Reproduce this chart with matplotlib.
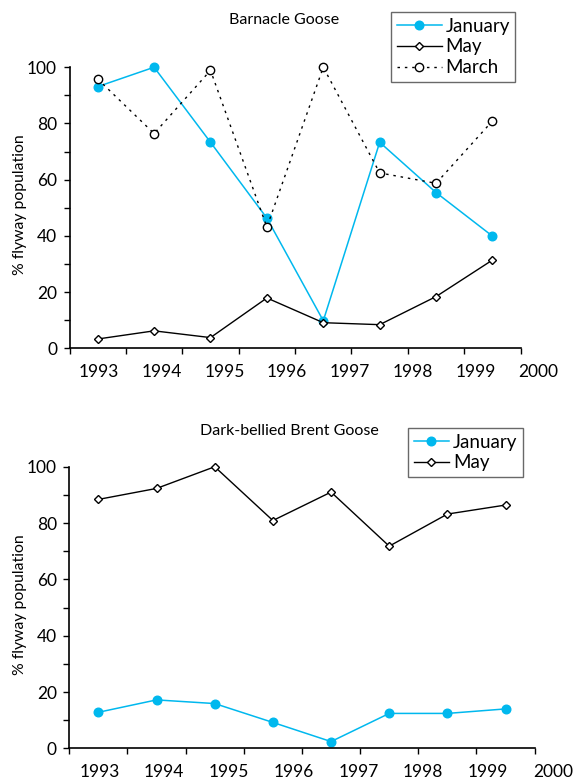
import matplotlib
matplotlib.use('Agg')
import matplotlib.pyplot as plt
import matplotlib.transforms as mtransforms
import numpy as np

plt.rcParams['font.family'] = ['Lato', 'DejaVu Sans']

years = ['1993', '1994', '1995', '1996', '1997', '1998', '1999', '2000']

# Barnacle Goose, % of flyway population
barnacle_jan = [93.1, 100, 73.3, 46.3, 9.8, 73.3, 55.4, 39.9]
barnacle_may = [3.3, 6.2, 3.8, 17.9, 9.1, 8.4, 18.4, 31.4]
barnacle_mar = [95.8, 76.4, 98.9, 43.1, 100, 62.4, 58.7, 80.9]

# Dark-bellied Brent Goose, % of flyway population
brent_jan = [12.8, 17.2, 15.9, 9.2, 2.4, 12.4, 12.4, 14.0]
brent_may = [88.4, 92.3, 100, 80.9, 91.0, 71.8, 83.2, 86.4]

CYAN = '#00b8ee'


def style_axes(ax, ylab_y):
    ax.spines['top'].set_visible(False)
    ax.spines['right'].set_visible(False)
    ax.spines['left'].set_linewidth(1.2)
    ax.spines['bottom'].set_linewidth(1.2)
    ax.set_xlim(0, 8)
    ax.set_ylim(0, 100)
    ax.set_xticks(np.arange(0, 9))
    ax.set_xticklabels([])
    ax.set_yticks(np.arange(0, 101, 20))
    ax.set_yticks(np.arange(0, 101, 10), minor=True)
    ax.tick_params(axis='x', direction='out', length=4, width=1)
    ax.tick_params(axis='y', which='both', direction='out', length=4, width=1)
    ax.tick_params(axis='y', labelsize=12.5, pad=5)
    fig.text(20 / 573, ylab_y, '% flyway population', rotation=90,
             ha='center', va='center', fontsize=11.3)
    # year labels sit on their own spacing, as in the original
    trans = mtransforms.blended_transform_factory(ax.transData, ax.transAxes)
    for i, yr in enumerate(years):
        ax.text(0.52 + 1.113 * i, -0.085, yr, transform=trans, ha='center',
                va='center', fontsize=12.5, clip_on=False)
    for line in ax.get_lines():
        line.set_clip_on(False)


fig = plt.figure(figsize=(5.73, 7.8), dpi=100)
ax1 = fig.add_axes([0.1213, 0.5535, 0.7874, 0.3603])
ax2 = fig.add_axes([0.1209, 0.0406, 0.8122, 0.361])

x = np.arange(len(barnacle_jan)) + 0.5

ax1.plot(x, barnacle_jan, color=CYAN, lw=1.1, marker='o', ms=6.2,
         mfc=CYAN, mec=CYAN, label='January')
ax1.plot(x, barnacle_may, color='black', lw=1.0, marker='D', ms=4.3,
         mfc='white', mec='black', mew=1.0, label='May')
ax1.plot(x, barnacle_mar, color='black', lw=1.0, ls=(0, (1.8, 3.5)), marker='o',
         ms=6.0, mfc='white', mec='black', mew=1.0, label='March')
style_axes(ax1, 1 - 205 / 780)
fig.text(0.495, 0.974, 'Barnacle Goose', ha='center', va='center', fontsize=11.5)
leg1 = ax1.legend(loc='upper left', bbox_to_anchor=(391 / 573, 1 - 12 / 780),
                  bbox_transform=fig.transFigure, fontsize=13.5, frameon=True,
                  fancybox=False, handlelength=2.4, handletextpad=0.2,
                  borderpad=0.3, labelspacing=0.2, borderaxespad=0)
leg1.get_frame().set_edgecolor('#444444')
leg1.get_frame().set_linewidth(1.0)

ax2.plot(x, brent_jan, color=CYAN, lw=1.1, marker='o', ms=6.2,
         mfc=CYAN, mec=CYAN, label='January')
ax2.plot(x, brent_may, color='black', lw=1.0, marker='D', ms=4.3,
         mfc='white', mec='black', mew=1.0, label='May')
style_axes(ax2, 1 - 605 / 780)
fig.text(0.505, 0.448, 'Dark-bellied Brent Goose', ha='center', va='center', fontsize=11.5)
leg2 = ax2.legend(loc='upper left', bbox_to_anchor=(408 / 573, 1 - 428 / 780),
                  bbox_transform=fig.transFigure, fontsize=13.5, frameon=True,
                  fancybox=False, handlelength=1.9, handletextpad=0.2,
                  borderpad=0.3, labelspacing=0.2, borderaxespad=0)
leg2.get_frame().set_edgecolor('#444444')
leg2.get_frame().set_linewidth(1.0)

fig.savefig('out.png', dpi=100)
